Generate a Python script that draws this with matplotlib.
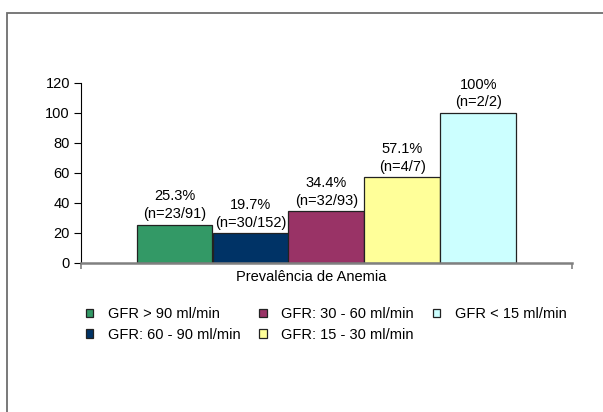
import matplotlib
matplotlib.use('Agg')
import matplotlib.pyplot as plt
from matplotlib.patches import Rectangle

plt.rcParams['font.family'] = ['Liberation Sans', 'DejaVu Sans']
plt.rcParams['font.size'] = 10.5

groups = ['GFR > 90 ml/min', 'GFR: 60 - 90 ml/min', 'GFR: 30 - 60 ml/min',
          'GFR: 15 - 30 ml/min', 'GFR < 15 ml/min']
prevalence = [25.3, 19.7, 34.4, 57.1, 100]
pct_labels = ['25.3%', '19.7%', '34.4%', '57.1%', '100%']
n_labels = ['(n=23/91)', '(n=30/152)', '(n=32/93)', '(n=4/7)', '(n=2/2)']
colors = ['#339966', '#003366', '#993366', '#FFFF99', '#CCFFFF']
category = 'Prevalência de Anemia'

W, H = 603, 412
fig = plt.figure(figsize=(W / 100, H / 100), dpi=100)

# outer chart frame (runs off right/bottom edge like the original)
fig.patches.append(Rectangle((6.5 / W, -0.1), 1.2, 1.1 - 12.7 / H,
                             transform=fig.transFigure, fill=False,
                             edgecolor='#6e6e6e', linewidth=1.3))

ax = fig.add_axes([81 / W, 1 - 262.5 / H, 491 / W, 179.5 / H])

bw = 76 / 491
xs = [(i - 2) * bw for i in range(len(prevalence))]
bars = ax.bar(xs, prevalence, width=bw, color=colors, edgecolor='#222222',
              linewidth=0.9)

labels = [p + '\n' + n for p, n in zip(pct_labels, n_labels)]
ax.bar_label(bars, labels=labels, padding=2.5, linespacing=1.35)

ax.set_xlim(-0.5, 0.5)
ax.set_ylim(0, 120)
ax.set_yticks(range(0, 121, 20))
ax.set_xticks([-0.5, 0.5])
ax.set_xticklabels([])
ax.tick_params(axis='x', direction='out', length=4, color='#808080', width=1.2)
ax.tick_params(axis='y', direction='out', length=5, width=0.8, pad=3)

for s in ['top', 'right']:
    ax.spines[s].set_visible(False)
ax.spines['bottom'].set_color('#808080')
ax.spines['bottom'].set_linewidth(1.8)
ax.spines['left'].set_linewidth(0.8)

fig.text(311 / W, 1 - 277 / H, category, ha='center', va='center')

leg = fig.legend(handles=list(bars), labels=groups, ncol=3,
                 loc='upper left', bbox_to_anchor=(86 / W, 1 - 307 / H),
                 frameon=False, borderpad=0, borderaxespad=0,
                 handlelength=0.5, handleheight=0.5, handletextpad=1.0,
                 columnspacing=1.3, labelspacing=0.45)

fig.savefig('out.png', dpi=100)
